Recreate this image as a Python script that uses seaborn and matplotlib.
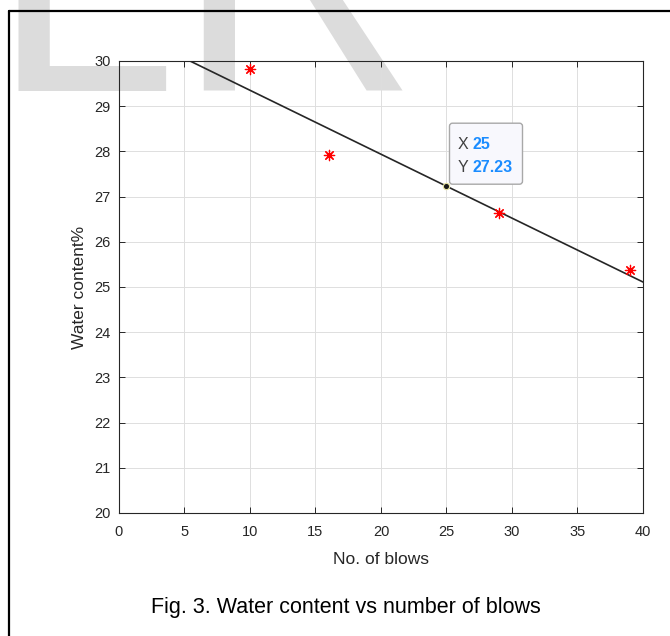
import matplotlib
matplotlib.use("Agg")
import matplotlib.pyplot as plt
import seaborn as sns
import pandas as pd
from matplotlib.lines import Line2D
from matplotlib.patches import FancyBboxPatch
from matplotlib.transforms import ScaledTranslation

# -----------------------------
# Data
# -----------------------------
blows = [10, 16, 29, 39]
water_content = [29.83, 27.92, 26.63, 25.38]

fit_blows = [5.42, 25, 40]
fit_water = [30.0, 27.23, 25.11]

tip_x = 25
tip_y = 27.23

x_ticks = [0, 5, 10, 15, 20, 25, 30, 35, 40]
y_ticks = [20, 21, 22, 23, 24, 25, 26, 27, 28, 29, 30]

TEXT = "#262626"

sns.set_style("ticks")
plt.rcParams["font.family"] = ["Liberation Sans", "DejaVu Sans"]

fig = plt.figure(figsize=(6.70, 6.36), dpi=100)
ax = fig.add_axes([0.1776, 0.1934, 0.7821, 0.7107])
ax.patch.set_alpha(0)

# watermark behind everything
fig.text(-0.014, 1 - 91 / 636, "LR", fontsize=241, color="#dcdcdc",
         ha="left", va="baseline", zorder=-1)

# fit line + measured points
fit = pd.DataFrame({"blows": fit_blows, "water": fit_water})
pts = pd.DataFrame({"blows": blows, "water": water_content})
sns.lineplot(data=fit, x="blows", y="water", color="#262626", lw=1.2, ax=ax, zorder=3)
sns.scatterplot(data=pts, x="blows", y="water", marker=(8, 2, 0), s=55,
                color="red", edgecolor="red", linewidth=0.9, ax=ax, zorder=4)

# data tip
ax.plot([tip_x], [tip_y], marker="o", ms=4.5, color="#1a1a1a",
        mec="#e8e4a0", mew=0.8, zorder=6)
tt = fig.dpi_scale_trans + ScaledTranslation(tip_x, tip_y, ax.transData)
box = FancyBboxPatch((0.03, 0.02), 0.73, 0.61, transform=tt,
                     boxstyle="round,pad=0,rounding_size=0.03",
                     fc="#f8f8fd", ec="#a8a8a8", lw=1.0, zorder=7, clip_on=False)
ax.add_patch(box)
ax.text(0.115, 0.42, "X", transform=tt, fontsize=11.5, color="#404040",
        va="center", ha="left", zorder=8)
ax.text(0.265, 0.42, f"{tip_x}", transform=tt, fontsize=11.5, color="#1a8cff",
        fontweight="bold", va="center", ha="left", zorder=8)
ax.text(0.115, 0.19, "Y", transform=tt, fontsize=11.5, color="#404040",
        va="center", ha="left", zorder=8)
ax.text(0.265, 0.19, f"{tip_y:.2f}", transform=tt, fontsize=11.5, color="#1a8cff",
        fontweight="bold", va="center", ha="left", zorder=8)

# axes styling
ax.set_xlim(0, 40)
ax.set_ylim(20, 30)
ax.set_xticks(x_ticks)
ax.set_yticks(y_ticks)
ax.grid(True, color="#dedede", lw=0.7)
ax.set_axisbelow(True)
for sp in ax.spines.values():
    sp.set_visible(True)
    sp.set_color(TEXT)
    sp.set_linewidth(0.8)
ax.tick_params(direction="in", length=4, width=0.7, top=True, right=True,
               labelsize=10.5, colors=TEXT)
ax.tick_params(axis="x", pad=9)
ax.tick_params(axis="y", pad=6)
ax.set_xlabel("No. of blows", fontsize=12.5, color=TEXT, labelpad=9)
ax.set_ylabel("Water content%", fontsize=12.5, color=TEXT, labelpad=5)

# caption
fig.text(346 / 670, 1 - 608 / 636, "Fig. 3. Water content vs number of blows",
         fontsize=15.5, color="black", ha="center", va="center")

# page frame
fig.add_artist(Line2D([9 / 670, 9 / 670], [0, 1 - 11 / 636],
                      transform=fig.transFigure, color="black", lw=1.6, zorder=10))
fig.add_artist(Line2D([9 / 670, 1], [1 - 11 / 636, 1 - 11 / 636],
                      transform=fig.transFigure, color="black", lw=1.6, zorder=10))

fig.savefig("out.png", dpi=100)
